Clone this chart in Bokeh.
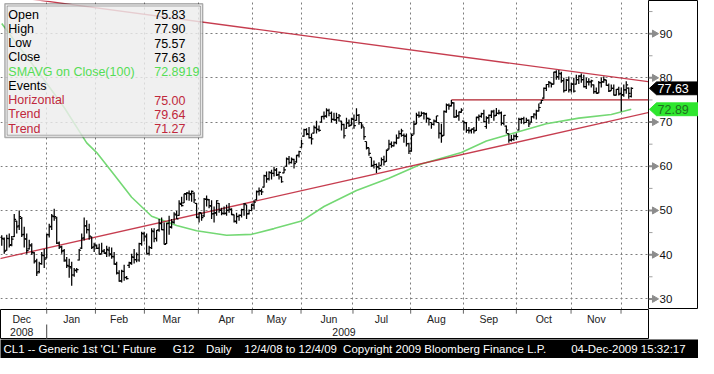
import math
from bokeh.plotting import figure
from bokeh.models import (Range1d, FixedTicker, Grid, Label, BoxAnnotation, ColumnDataSource)
from bokeh.core.properties import value
from bokeh.layouts import column, row
from bokeh.embed import file_html
from bokeh.resources import INLINE

# ---------------- data (daily bars, CL1, 12/4/08 .. 12/4/09) ----------------
opens = [
    43.9, 43.5, 41.0, 43.6, 42.3, 44.1, 47.6, 46.5, 48.2, 44.6,
    43.5, 41.3, 42.0, 40.4, 38.6, 36.2, 38.0, 39.8, 39.3, 44.5,
    46.4, 48.6, 48.3, 42.6, 41.8, 40.9, 38.6, 37.4, 37.0, 35.4,
    36.4, 38.8, 41.5, 43.8, 46.5, 45.6, 44.0, 41.8, 42.0, 41.5,
    40.2, 40.8, 40.4, 41.0, 40.0, 39.5, 37.8, 35.8, 34.1, 36.2,
    34.8, 37.6, 38.0, 39.4, 38.9, 38.8, 42.5, 44.7, 44.0, 40.3,
    41.6, 45.2, 43.7, 45.6, 47.0, 45.6, 42.5, 47.1, 46.2, 47.3,
    49.0, 48.9, 51.4, 51.7, 53.7, 53.9, 53.6, 53.9, 51.6, 48.5,
    49.4, 48.8, 52.5, 52.4, 51.0, 49.3, 49.5, 51.6, 50.0, 49.3,
    49.4, 50.1, 50.2, 49.0, 47.5, 48.7, 48.9, 50.2, 51.3, 49.3,
    50.0, 51.2, 52.4, 54.3, 54.4, 55.3, 57.8, 57.2, 58.5, 58.4,
    59.1, 58.1, 57.6, 58.5, 60.0, 61.6, 60.8, 61.5, 61.0, 62.5,
    64.3, 66.8, 68.3, 67.2, 66.5, 67.5, 68.7, 68.3, 70.0, 71.2,
    71.4, 72.6, 72.0, 70.6, 70.5, 71.0, 70.2, 69.4, 68.6, 69.8,
    69.3, 70.6, 70.4, 71.5, 69.9, 68.9, 65.6, 64.2, 62.0, 60.2,
    60.4, 59.8, 60.2, 61.5, 61.1, 63.9, 65.0, 64.6, 65.4, 66.4,
    67.4, 67.0, 66.8, 65.1, 63.5, 67.3, 69.6, 71.5, 71.4, 72.0,
    71.8, 70.8, 69.9, 69.5, 70.2, 69.9, 67.4, 67.0, 72.3, 73.8,
    73.7, 74.3, 71.2, 71.4, 72.2, 70.2, 69.8, 68.1, 68.1, 68.4,
    68.1, 71.0, 71.3, 71.9, 69.0, 71.0, 71.5, 72.3, 71.5, 72.0,
    72.1, 69.7, 69.1, 67.4, 65.9, 66.1, 66.8, 68.2, 70.6, 70.8,
    69.9, 70.4, 70.0, 71.2, 71.6, 72.5, 74.3, 75.4, 77.6, 78.5,
    78.8, 78.6, 81.3, 80.2, 80.9, 79.4, 77.2, 79.5, 77.3, 78.6,
    78.6, 79.6, 80.4, 79.6, 78.0, 79.1, 79.1, 78.4, 76.9, 76.6,
    78.9, 79.1, 79.5, 78.3, 77.1, 77.6, 76.1, 77.4, 76.5, 76.2,
    77.3, 77.7, 75.83,
]
highs = [
    44.4, 43.9, 44.5, 44.8, 44.2, 49.2, 47.7, 50.0, 48.5, 46.3,
    44.8, 43.4, 42.6, 40.6, 39.1, 38.4, 40.6, 41.3, 44.7, 47.0,
    49.2, 50.4, 48.6, 43.0, 42.0, 41.3, 39.5, 39.1, 38.4, 37.0,
    37.0, 41.3, 44.8, 48.4, 47.8, 47.0, 44.1, 42.7, 42.3, 42.5,
    42.7, 41.3, 42.0, 41.8, 41.6, 40.6, 38.4, 36.5, 36.6, 37.7,
    35.2, 38.4, 40.2, 41.3, 40.5, 42.7, 45.2, 45.2, 44.8, 42.0,
    46.0, 46.0, 45.6, 48.1, 48.4, 47.3, 47.2, 48.8, 48.1, 49.6,
    49.9, 52.3, 53.1, 53.8, 54.1, 54.5, 54.5, 54.1, 51.7, 49.6,
    49.5, 52.8, 53.4, 52.6, 52.3, 50.9, 52.3, 51.7, 50.6, 50.9,
    51.3, 51.7, 50.5, 49.1, 49.5, 49.1, 50.4, 51.7, 51.3, 50.2,
    51.5, 52.3, 54.5, 55.2, 55.0, 58.1, 58.8, 58.9, 59.2, 59.9,
    59.6, 58.8, 57.7, 59.9, 62.0, 62.3, 62.0, 61.7, 62.6, 63.5,
    66.0, 68.5, 68.6, 68.9, 67.4, 69.2, 70.3, 69.2, 71.4, 72.4,
    73.1, 73.0, 72.4, 72.1, 72.1, 71.8, 70.3, 69.6, 71.0, 70.6,
    71.0, 71.7, 73.1, 71.8, 69.9, 68.9, 65.6, 64.2, 62.0, 61.3,
    60.6, 60.9, 62.0, 62.4, 63.8, 66.0, 65.6, 65.6, 67.2, 68.1,
    68.5, 67.4, 67.4, 65.3, 67.4, 70.3, 72.1, 72.4, 72.4, 72.3,
    72.1, 71.0, 69.9, 70.6, 71.4, 69.9, 69.6, 72.6, 74.2, 74.2,
    75.0, 74.5, 72.8, 72.4, 73.1, 70.3, 70.0, 68.9, 68.5, 68.9,
    71.2, 71.7, 72.1, 72.8, 71.3, 71.7, 72.6, 72.8, 73.2, 72.8,
    72.4, 71.6, 69.2, 67.4, 67.1, 67.2, 67.4, 71.0, 71.0, 71.2,
    71.0, 70.6, 71.4, 72.0, 72.8, 74.2, 75.0, 77.8, 78.6, 79.3,
    78.9, 81.4, 81.7, 81.8, 81.4, 80.0, 79.8, 80.3, 78.9, 80.0,
    80.7, 80.6, 81.0, 80.7, 80.0, 79.9, 79.6, 78.5, 77.8, 79.3,
    80.0, 80.3, 79.6, 78.7, 78.5, 78.5, 77.5, 78.0, 77.8, 78.5,
    79.25, 77.8, 77.90,
]
lows = [
    42.0, 40.2, 40.9, 41.6, 41.9, 44.0, 44.8, 45.6, 44.0, 41.6,
    40.2, 41.2, 40.0, 38.0, 35.2, 35.8, 37.7, 37.0, 39.2, 43.9,
    45.6, 47.7, 42.4, 41.3, 40.2, 38.4, 37.0, 34.8, 33.0, 35.0,
    35.9, 38.7, 41.3, 43.2, 44.8, 43.4, 41.3, 40.6, 41.3, 40.0,
    40.2, 40.2, 39.5, 39.6, 39.1, 37.7, 35.5, 33.9, 33.7, 34.1,
    34.4, 37.0, 37.7, 38.0, 38.3, 38.4, 42.0, 43.0, 40.2, 39.8,
    41.3, 42.8, 43.0, 45.2, 45.5, 42.3, 42.4, 44.5, 45.9, 47.0,
    48.1, 48.8, 50.9, 51.7, 52.3, 52.2, 52.0, 51.7, 48.3, 47.3,
    47.7, 48.5, 50.9, 50.5, 48.1, 47.3, 48.8, 49.5, 48.9, 49.1,
    48.8, 49.5, 48.9, 47.3, 47.0, 47.7, 48.4, 48.8, 48.1, 49.1,
    49.8, 50.2, 52.3, 53.4, 53.5, 55.2, 56.3, 56.8, 57.0, 57.7,
    57.8, 57.0, 56.3, 58.4, 59.9, 60.4, 60.6, 59.5, 60.8, 62.0,
    64.2, 66.7, 67.0, 66.3, 64.9, 67.4, 67.4, 67.8, 69.9, 70.6,
    71.0, 71.3, 69.9, 70.3, 69.6, 70.1, 68.1, 66.3, 68.5, 68.9,
    69.2, 68.5, 70.3, 69.4, 68.5, 66.0, 63.8, 62.4, 59.9, 59.5,
    58.5, 59.2, 60.2, 60.2, 61.0, 63.8, 64.2, 64.5, 65.0, 66.3,
    66.7, 65.3, 64.5, 62.8, 63.3, 67.2, 69.5, 71.0, 71.4, 70.6,
    69.9, 69.2, 68.5, 69.2, 69.9, 66.3, 65.3, 66.9, 72.1, 72.8,
    73.5, 71.0, 71.0, 70.3, 72.1, 68.1, 67.6, 67.4, 67.4, 67.4,
    68.0, 70.3, 71.0, 69.9, 68.5, 69.6, 70.9, 70.3, 71.4, 71.7,
    69.2, 69.3, 67.4, 65.3, 65.6, 65.8, 66.0, 68.1, 69.6, 69.5,
    69.9, 68.9, 69.9, 70.8, 70.6, 72.4, 74.2, 75.3, 77.0, 77.8,
    77.8, 78.5, 79.6, 79.6, 78.9, 76.7, 77.0, 76.7, 76.7, 76.7,
    78.5, 78.6, 78.9, 77.8, 77.5, 78.3, 77.8, 76.4, 76.4, 76.5,
    77.8, 78.9, 78.2, 76.8, 77.1, 76.0, 76.0, 76.0, 72.4, 75.7,
    76.4, 75.3, 75.57,
]
closes = [
    43.7, 40.8, 43.7, 42.1, 43.5, 48.0, 46.3, 48.6, 44.5, 43.6,
    40.9, 42.2, 40.5, 38.4, 35.9, 38.0, 39.9, 39.0, 44.6, 46.3,
    48.8, 48.6, 42.6, 41.7, 40.8, 38.8, 37.6, 37.3, 35.4, 36.5,
    36.6, 41.0, 43.6, 46.5, 45.7, 44.2, 41.6, 42.2, 41.4, 40.1,
    40.8, 40.3, 41.2, 40.2, 39.6, 37.9, 35.9, 34.0, 36.3, 34.9,
    34.6, 38.2, 39.5, 38.9, 40.0, 42.5, 44.8, 44.2, 40.2, 41.6,
    45.4, 43.6, 45.5, 47.1, 45.7, 42.3, 47.0, 46.3, 47.4, 49.2,
    48.1, 51.6, 51.1, 53.8, 54.0, 53.8, 54.3, 52.4, 48.4, 49.5,
    48.4, 52.6, 52.5, 51.1, 49.2, 49.4, 52.2, 50.1, 49.4, 49.3,
    50.0, 50.3, 49.1, 47.6, 48.6, 48.9, 50.2, 51.5, 49.2, 50.0,
    51.2, 51.9, 54.2, 54.5, 54.2, 57.9, 57.1, 58.6, 58.4, 59.2,
    58.0, 58.6, 56.5, 59.2, 61.7, 60.9, 61.6, 60.6, 62.4, 63.3,
    65.1, 68.3, 67.4, 66.5, 66.2, 68.8, 68.4, 68.1, 71.3, 71.3,
    72.7, 72.0, 70.6, 70.5, 71.0, 71.4, 69.5, 66.9, 69.8, 69.2,
    70.7, 69.2, 71.5, 69.9, 69.3, 66.7, 64.1, 62.9, 60.1, 60.4,
    59.9, 59.5, 61.5, 61.0, 63.6, 65.0, 64.7, 65.3, 66.4, 67.4,
    68.0, 66.8, 65.1, 63.4, 67.0, 69.5, 71.6, 71.4, 72.0, 71.9,
    70.9, 70.6, 69.5, 70.2, 71.4, 67.5, 66.8, 72.4, 73.9, 73.6,
    74.4, 71.1, 71.4, 72.3, 72.7, 69.9, 68.1, 68.0, 68.4, 68.0,
    71.1, 71.3, 71.9, 70.1, 70.9, 71.5, 72.5, 71.4, 72.0, 72.1,
    69.7, 71.5, 68.2, 65.9, 66.0, 66.8, 66.7, 70.6, 70.8, 69.9,
    70.4, 69.6, 71.2, 71.8, 72.5, 73.3, 74.9, 77.6, 78.5, 79.0,
    78.6, 81.3, 80.3, 81.0, 79.3, 77.1, 79.5, 77.3, 78.6, 77.0,
    79.6, 80.4, 79.6, 78.0, 79.1, 79.1, 79.3, 76.9, 76.5, 78.9,
    79.1, 79.6, 78.3, 77.0, 77.6, 76.1, 77.4, 76.3, 76.1, 77.3,
    78.4, 76.5, 77.63,
]

# 100-day simple moving average of the close, read at bar indices
sma_idx = [0, 7, 16, 25, 34, 38, 45, 52, 60, 70, 78, 90, 100, 109, 120, 129,
           142, 155, 168, 184, 194, 203, 218, 231, 244, 252]
sma_val = [92.3, 87.0, 80.3, 73.3, 65.3, 63.1, 58.1, 53.0, 48.7, 46.6, 45.4,
           44.4, 44.6, 45.9, 47.6, 50.9, 54.5, 57.3, 60.5, 63.1, 65.7, 67.2,
           69.6, 70.9, 71.7, 72.8919]

# trend lines: anchor (bar index, price) pairs; horizontal level from bar 180
trend_hi_idx = [0, 252]
trend_hi_val = [98.7, 79.64]
trend_lo_idx = [0, 252]
trend_lo_val = [39.2, 71.27]
horiz_idx = 180
horiz_val = 75.00

# time axis: month boundaries (bar index), month labels and where they sit
month_bounds = [18.0, 37.5, 57.1, 78.7, 100.2, 119.8, 140.6, 163.7, 184.8,
                206.0, 227.9, 247.9]
month_names = ["Dec", "Jan", "Feb", "Mar", "Apr", "May", "Jun", "Jul", "Aug",
               "Sep", "Oct", "Nov"]
month_label_at = [8, 28, 47, 68, 90, 110, 131, 152, 174, 195, 217, 238]
year_names = ["2008", "2009"]
year_label_at = [8, 137]

price_ticks = [30, 40, 50, 60, 70, 80, 90]
price_minor = [35, 45, 55, 65, 75, 85, 95]

footer_texts = ["CL1 -- Generic 1st 'CL' Future", "G12", "Daily",
                "12/4/08 to 12/4/09", "Copyright 2009 Bloomberg Finance L.P.",
                "04-Dec-2009 15:32:17"]

# ---------------- layout constants ----------------
FONT = "Liberation Sans"
W = 698
FW, FH = 648, 309          # price panel
RB, BB = 50, 30            # right axis panel width, bottom band height
FOOT_H = 19
RED = "#c0283c"
GREEN_LINE = "#74d874"
GRID = "#7c7c7c"
sx, sy = FW / 662.0, FH / 325.0

X0, X1 = -0.5, 258.9
Y0, Y1 = 27.6, 97.5

def bare(width, height, **kw):
    f = figure(width=width, height=height, output_backend="svg", toolbar_location=None,
               x_axis_location=None, y_axis_location=None, min_border=0, **kw)
    f.grid.visible = False
    return f

# ---------------- price panel ----------------
p = bare(FW, FH, x_range=Range1d(X0, X1), y_range=Range1d(Y0, Y1),
         background_fill_color="white", border_fill_color="white", outline_line_color=None)

p.add_layout(Grid(dimension=0, ticker=FixedTicker(ticks=month_bounds),
                  grid_line_color=GRID, grid_line_dash="2 3", grid_line_width=1))
p.add_layout(Grid(dimension=1, ticker=FixedTicker(ticks=price_ticks),
                  grid_line_color=GRID, grid_line_dash="2 3", grid_line_width=1))

# legend box (semi-transparent, double border)
p.add_layout(BoxAnnotation(left=4.5 * sx, right=206.5 * sx, top=FH - 3.5 * sy, bottom=FH - 144 * sy,
                           left_units="screen", right_units="screen",
                           top_units="screen", bottom_units="screen",
                           fill_color="#ededed", fill_alpha=0.82,
                           line_color="black", line_width=1.5, level="overlay"))
p.add_layout(BoxAnnotation(left=6.8 * sx, right=204.2 * sx, top=FH - 5.8 * sy, bottom=FH - 141.7 * sy,
                           left_units="screen", right_units="screen",
                           top_units="screen", bottom_units="screen",
                           fill_color=None, line_color="black", line_width=1, level="overlay"))

p.line(sma_idx, sma_val, line_color=GREEN_LINE, line_width=1.6)

def extend(ix, iv):
    slope = (iv[1] - iv[0]) / (ix[1] - ix[0])
    return [X0 - 1, X1 + 1], [iv[0] + slope * (X0 - 1 - ix[0]), iv[0] + slope * (X1 + 1 - ix[0])]

hx, hy = extend(trend_hi_idx, trend_hi_val)
lx, ly = extend(trend_lo_idx, trend_lo_val)
p.line(hx, hy, line_color=RED, line_width=1.3, line_alpha=0.9)
p.line(lx, ly, line_color=RED, line_width=1.3, line_alpha=0.9)
p.line([horiz_idx, X1 + 1], [horiz_val, horiz_val], line_color="#b0202c", line_width=1.3)

xs = list(range(len(closes)))
src = ColumnDataSource(dict(x=xs, o=opens, h=highs, l=lows, c=closes,
                            xl=[i - 0.75 for i in xs], xr=[i + 0.75 for i in xs]))
p.segment("x", "l", "x", "h", source=src, line_color="black", line_width=1.25)
p.segment("xl", "o", "x", "o", source=src, line_color="black", line_width=1.2)
p.segment("x", "c", "xr", "c", source=src, line_color="black", line_width=1.2)

leg_names = ["Open", "High", "Low", "Close", "SMAVG on Close(100)", "Events",
             "Horizontal", "Trend", "Trend"]
leg_vals = [f"{opens[-1]:.2f}", f"{highs[-1]:.2f}", f"{lows[-1]:.2f}", f"{closes[-1]:.2f}",
            f"{sma_val[-1]:.4f}", "", f"{horiz_val:.2f}", f"{trend_hi_val[-1]:.2f}",
            f"{trend_lo_val[-1]:.2f}"]
leg_cols = ["black", "black", "black", "black", "#55dd55", "black", RED, RED, RED]
for k, (nm, vv, cc) in enumerate(zip(leg_names, leg_vals, leg_cols)):
    yy = FH - (14.8 + 15.0 * k) * sy
    p.add_layout(Label(x=8 * sx, y=yy, x_units="screen", y_units="screen", text=nm,
                       text_font=FONT, text_font_size="12.5px", text_color=cc,
                       text_baseline="middle", level="overlay"))
    if vv:
        p.add_layout(Label(x=157 * sx, y=yy, x_units="screen", y_units="screen", text=vv,
                           text_font=FONT, text_font_size="12.5px", text_color=cc,
                           text_baseline="middle", level="overlay"))

# ---------------- right price-axis panel (shares the price scale) ----------------
rp = bare(RB, FH, x_range=Range1d(0, RB), y_range=p.y_range,
          background_fill_color="white", border_fill_color="white",
          outline_line_color="black", outline_line_width=1)
rp.segment(x0=[0] * len(price_minor), y0=price_minor, x1=[4] * len(price_minor), y1=price_minor,
           line_color="#a0a0a0", line_width=1)
rp.segment(x0=[0] * len(price_ticks), y0=price_ticks, x1=[5] * len(price_ticks), y1=price_ticks,
           line_color="#8c8c8c", line_width=2)
rp.scatter(x=[6] * len(price_ticks), y=price_ticks, marker="triangle", angle=-math.pi / 2,
           size=7, fill_color="#8c8c8c", line_color="#8c8c8c")
rp.text(x=[11] * len(price_ticks), y=price_ticks, text=[str(t) for t in price_ticks],
        text_font=value(FONT), text_font_size="11.5px", text_color="#111111",
        text_baseline="middle", text_align="left")

def tag(price, fill, txt_color):
    h = 1.45
    rp.patch([1, 8, RB + 2, RB + 2, 8], [price, price + h, price + h, price - h, price - h],
             fill_color=fill, line_color=fill)
    rp.text(x=[9], y=[price], text=[f"{price:.2f}"], text_font=value(FONT),
            text_font_size="12.5px", text_color=txt_color, text_baseline="middle")

tag(closes[-1], "black", "white")
tag(sma_val[-1], "#2ee62e", "#1f6f1f")

# ---------------- bottom time band (shares the bar scale) ----------------
band = bare(W, BB, x_range=p.x_range, y_range=Range1d(0, 1), min_border_right=RB,
            background_fill_color="white", border_fill_color="white",
            outline_line_color="black", outline_line_width=1)
band.segment(x0=month_bounds, y0=[1] * len(month_bounds), x1=month_bounds,
             y1=[0.86] * len(month_bounds), line_color="#666666", line_width=1)
band.segment(x0=[month_bounds[0]], y0=[0.5], x1=[month_bounds[0]], y1=[0.0],
             line_color="#444444", line_width=1)
band.text(x=month_label_at, y=[0.70] * len(month_label_at), text=month_names,
          text_font=value(FONT), text_font_size="10.5px", text_color="#222222",
          text_align="center", text_baseline="middle")
band.text(x=year_label_at, y=[0.24] * len(year_label_at), text=year_names,
          text_font=value(FONT), text_font_size="10.5px", text_color="#222222",
          text_align="center", text_baseline="middle")

# ---------------- footer ----------------
foot = bare(W, FOOT_H, x_range=Range1d(0, W), y_range=Range1d(0, FOOT_H),
            background_fill_color="black", border_fill_color="black", outline_line_color=None)
foot.frame_align = False
foot_x = [3, 176, 210, 249, 350, 583]
foot.text(x=[v * sx for v in foot_x], y=[FOOT_H / 2.0] * len(footer_texts), text=footer_texts,
          text_font=value(FONT), text_font_size="11.5px", text_color="white",
          text_baseline="middle", text_align="left")

layout = column(row(p, rp, spacing=0), band, foot, spacing=0)
open("out.html", "w").write(file_html(layout, INLINE))
